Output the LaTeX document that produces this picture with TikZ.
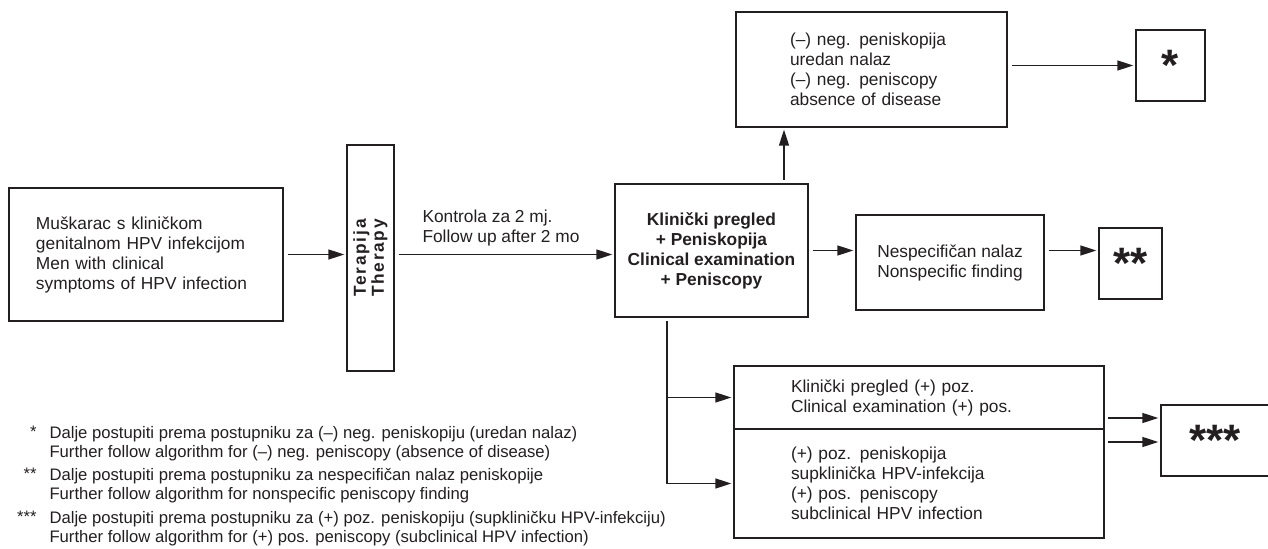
\documentclass[tikz,border=0pt]{standalone}
\usepackage{fontspec}
\setmainfont{Liberation Sans}
\usetikzlibrary{arrows.meta}

\definecolor{ink}{RGB}{35,31,32}

\tikzset{every picture/.style={line width=0.75pt}}
\tikzset{
  box/.style={draw=ink, line width=1pt, inner sep=0pt, text=ink, font=\fontsize{13}{15}\selectfont},
  arr/.style={draw=ink, line width=1pt, -{Triangle[length=12pt,width=7.5pt]}, shorten <=3pt, shorten >=1.5pt},
  fn/.style={inner sep=0pt, text=ink, font=\fontsize{12.5}{14}\selectfont},
  stars/.style={font=\fontsize{33}{33}\selectfont\bfseries}
}

\begin{document}
\begin{tikzpicture}[x=0.75pt,y=0.75pt,yscale=-1,xscale=1]
\useasboundingbox (0,0) rectangle (1268,549);

% Text Node
\node[box, minimum width=205.5pt, minimum height=99.75pt, text width=165pt, align=left] (patient) at (146,254.5) {Muškarac s kliničkom\\genitalnom HPV infekcijom\\Men with clinical\\symptoms of HPV infection};
% Shape: Rectangle
\node[box, minimum width=35.25pt, minimum height=169.5pt] (therapy) at (370.5,258) {};
% Text Node
\node[rotate=90, inner sep=0pt, text=ink, align=center, font=\fontsize{13}{13.5}\selectfont\bfseries\addfontfeature{LetterSpace=10}] (therapytxt) at (therapy.center) {Terapija\\Therapy};
% Text Node
\node[box, minimum width=144.75pt, minimum height=99.75pt, align=center, font=\fontsize{13}{15}\selectfont\bfseries] (exam) at (711.5,250.5) {Klinički pregled\\+ Peniskopija\\Clinical examination\\+ Peniscopy};
% Text Node
\node[box, minimum width=203.25pt, minimum height=86.25pt, text width=122.25pt, align=left] (neg) at (871.5,69.5) {(–) neg. peniskopija\\uredan nalaz\\(–) neg. peniscopy\\absence of disease};
% Text Node
\node[box, minimum width=141pt, minimum height=71.25pt, align=left] (nonspec) at (950,262.5) {Nespecifičan nalaz\\Nonspecific finding};
% Text Node
\node[box, minimum width=277.5pt, minimum height=47.25pt, text width=192pt, align=left] (posA) at (919,397.5) {Klinički pregled (+) poz.\\Clinical examination (+) pos.};
% Text Node
\node[box, minimum width=277.5pt, minimum height=81.75pt, text width=192pt, align=left] (posB) at (919,483.5) {(+) poz. peniskopija\\supklinička HPV-infekcija\\(+) pos. peniscopy\\subclinical HPV infection};

% Star boxes
\node[box, stars, minimum width=51.75pt, minimum height=53.25pt] (star1) at (1170.5,65.5) {*};
\node[box, stars, minimum width=47.25pt, minimum height=53.25pt] (star2) at (1130.5,263.5) {**};
\node[box, stars, minimum width=96.75pt, minimum height=53.25pt] (star3) at (1225.5,440.5) {***\hspace*{15.75pt}};

% Text Node
\node[anchor=north west, inner sep=0pt, text=ink, align=left, font=\fontsize{13}{15}\selectfont] (ctrl) at (422,209.5) {Kontrola za 2 mj.\\Follow up after 2 mo};

%Straight Lines
\draw[arr] (patient.east) -- (patient.east -| therapy.west);
\draw[arr] (therapy.east |- patient.east) -- (exam.west |- patient.east);
\draw[arr] (exam.east) -- (exam.east -| nonspec.west);
\draw[arr] (nonspec.east |- exam.east) -- (star2.west |- exam.east);
\draw[arr] (neg.east |- star1.west) -- (star1.west);

\coordinate (upstart) at (784,184);
\draw[arr] (upstart) -- (upstart |- neg.south);

\coordinate (drop) at (667,317);
\draw[arr] (drop) |- (posB.west);
\draw[arr, shorten <=0pt] (drop |- posA.west) -- (posA.west);

\coordinate (s3a) at (1104,418);
\coordinate (s3b) at (1104,442);
\draw[arr] (s3a) -- (s3a -| star3.west);
\draw[arr] (s3b) -- (s3b -| star3.west);

% Footnotes
\node[fn, anchor=north east] (fa) at (37,426) {*};
\node[fn, anchor=north west, align=left] (fatxt) at (49,426) {Dalje postupiti prema postupniku za (–) neg. peniskopiju (uredan nalaz)\\Further follow algorithm for (–) neg. peniscopy (absence of disease)};
\node[fn, anchor=north east] (fb) at (37,468) {**};
\node[fn, anchor=north west, align=left] (fbtxt) at (49,468) {Dalje postupiti prema postupniku za nespecifičan nalaz peniskopije\\Further follow algorithm for nonspecific peniscopy finding};
\node[fn, anchor=north east] (fc) at (37,511) {***};
\node[fn, anchor=north west, align=left] (fctxt) at (49,511) {Dalje postupiti prema postupniku za (+) poz. peniskopiju (supkliničku HPV-infekciju)\\Further follow algorithm for (+) pos. peniscopy (subclinical HPV infection)};

\end{tikzpicture}
\end{document}
